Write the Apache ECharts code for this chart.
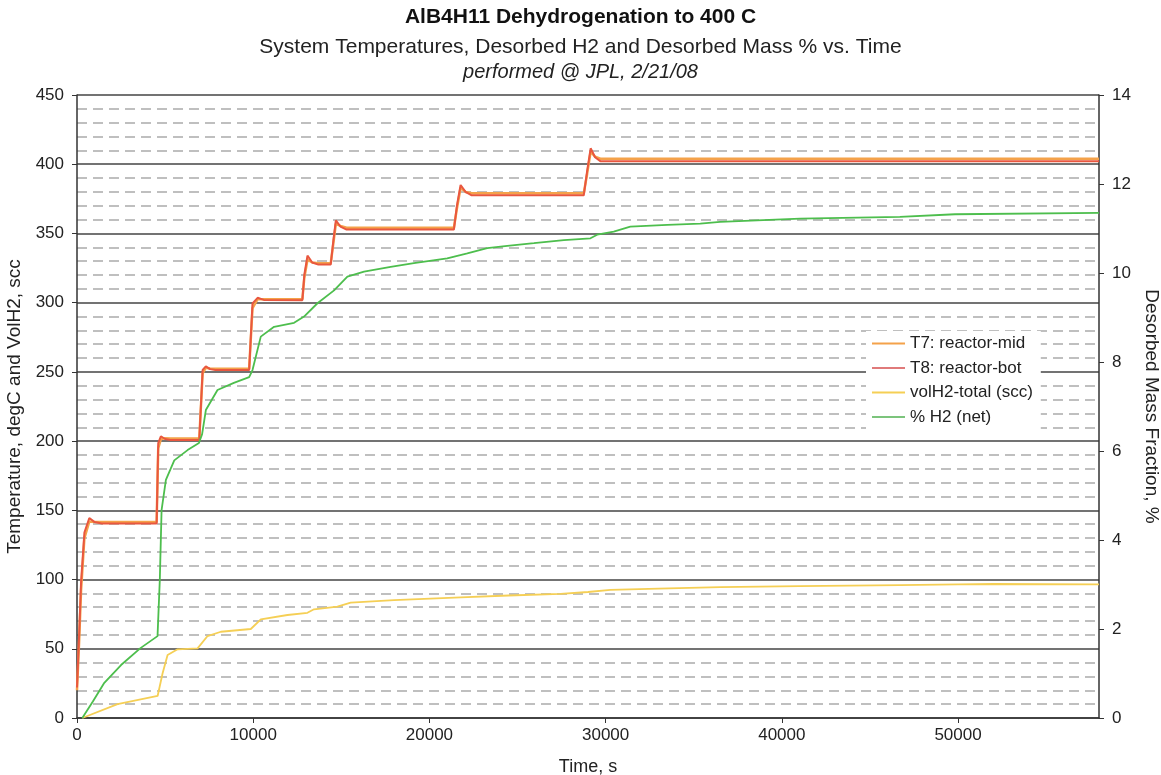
<!DOCTYPE html>
<html>
<head>
<meta charset="utf-8">
<script src="https://cdn.jsdelivr.net/npm/echarts@6/dist/echarts.min.js"></script>
<style>html,body{margin:0;padding:0;background:#fff;}#c{width:1161px;height:775px;}</style>
</head>
<body>
<div id="c"></div>
<script>
// ---- data ----
const t8Time = [0, 120, 230, 420, 700, 1000, 1400, 4520, 4610, 4760, 5000, 5300, 6940, 7130, 7310, 7550, 7850, 9770, 9960, 10250, 10600, 12790, 12900, 13080, 13350, 13700, 14400, 14550, 14690, 14950, 15300, 21390, 21560, 21770, 22050, 22400, 28760, 28950, 29150, 29400, 29700, 58000];
const t8Temp = [22, 60, 98, 134, 144.5, 141.5, 140.5, 140.5, 198.6, 203.5, 201.5, 200.8, 200.8, 251.4, 254, 252, 251.3, 251.3, 299.5, 303.5, 302, 301.8, 320, 334, 329, 327.5, 327.5, 345, 359.5, 355, 352.8, 352.8, 370, 385, 380, 377.5, 377.5, 395, 411.5, 405, 402.2, 402.2];
const t7Time = t8Time;
const t7Temp = [20, 55, 92, 130, 142, 141.5, 141.5, 141.5, 195, 201.5, 202, 201.8, 201.8, 249, 253, 252.5, 252.3, 252.3, 296, 302.5, 302.5, 302.5, 318, 331, 329, 328.5, 328.5, 343, 357, 355.5, 354.2, 354.2, 368, 383, 380, 379, 379, 393, 409, 405.5, 404, 404];
const volTime = [300, 2300, 4575, 4858, 5141, 5708, 6842, 7409, 8163, 9864, 10430, 11944, 13078, 13452, 14779, 15533, 17990, 21770, 24500, 27440, 29000, 30270, 33000, 36500, 41000, 46700, 50000, 52000, 58000];
const volH2 = [0, 10, 15.9, 32.3, 45.5, 49.6, 50.3, 59.2, 62.3, 64.3, 71.3, 74.4, 76, 78.5, 80.4, 83.3, 85.2, 87.2, 88.5, 89.6, 91, 92.5, 93.5, 94.6, 95.3, 96, 96.5, 96.8, 96.5];
const h2Time = [300, 900, 1550, 2500, 3600, 4570, 4700, 4800, 5045, 5520, 6275, 6920, 7100, 7313, 7974, 8900, 9770, 9960, 10430, 11185, 12320, 12886, 13645, 14590, 15345, 16290, 17800, 19120, 21010, 22150, 23280, 24420, 25930, 27630, 29140, 29520, 30460, 31400, 33500, 35370, 36500, 41040, 46700, 49830, 58000];
const h2Pct = [0, 0.37, 0.79, 1.19, 1.57, 1.84, 3.11, 4.67, 5.35, 5.79, 6.02, 6.18, 6.38, 6.92, 7.37, 7.53, 7.66, 7.82, 8.57, 8.79, 8.88, 9.02, 9.32, 9.61, 9.92, 10.03, 10.14, 10.22, 10.33, 10.44, 10.56, 10.61, 10.67, 10.74, 10.78, 10.86, 10.93, 11.04, 11.08, 11.11, 11.15, 11.22, 11.26, 11.32, 11.35];
const seriesNames = ['T7: reactor-mid', 'T8: reactor-bot', 'volH2-total (scc)', '% H2 (net)'];
const titleText = 'AlB4H11 Dehydrogenation to 400 C';
const subText = 'System Temperatures, Desorbed H2 and Desorbed Mass % vs. Time';
const noteText = 'performed @ JPL, 2/21/08';

const pairs = (xs, ys) => xs.map((x, i) => [x, ys[i]]);
const FONT = 'Liberation Sans, Arial, sans-serif';
const plain = v => String(v);

const chart = echarts.init(document.getElementById('c'), null, {renderer: 'canvas'});
chart.setOption({
  animation: false,
  backgroundColor: '#fff',
  title: [
    {text: titleText, left: 'center', top: 7, padding: 0, textStyle: {fontFamily: FONT, fontSize: 21, fontWeight: 'bold', color: '#111'}},
    {text: subText, left: 'center', top: 37, padding: 0, textStyle: {fontFamily: FONT, fontSize: 21, fontWeight: 'normal', color: '#222'}},
    {text: noteText, left: 'center', top: 62, padding: 0, textStyle: {fontFamily: FONT, fontSize: 20, fontWeight: 'normal', fontStyle: 'italic', color: '#222'}}
  ],
  grid: {left: 77, right: 62, top: 95, bottom: 57, containLabel: false, outerBoundsMode: 'none'},
  legend: {
    orient: 'vertical', left: 866, top: 331,
    data: seriesNames,
    icon: 'rect', itemWidth: 33, itemHeight: 2, itemGap: 7.5,
    backgroundColor: '#fff', padding: [4, 8, 4, 6],
    textStyle: {fontFamily: FONT, fontSize: 17, color: '#222'}
  },
  xAxis: {
    type: 'value', min: 0, max: 58000, interval: 10000,
    name: 'Time, s', nameLocation: 'middle', nameGap: 40,
    nameTextStyle: {fontFamily: FONT, fontSize: 18, color: '#222'},
    axisLine: {show: true, lineStyle: {color: '#333', width: 1.5}},
    axisTick: {show: true, length: 5, lineStyle: {color: '#333'}},
    axisLabel: {fontFamily: FONT, fontSize: 17, color: '#222', margin: 9, showMaxLabel: false, formatter: plain},
    splitLine: {show: false}
  },
  yAxis: [
    {
      type: 'value', min: 0, max: 450, interval: 50,
      name: 'Temperature, degC and VolH2, scc', nameLocation: 'middle', nameGap: 43, nameRotate: 90,
      nameTextStyle: {fontFamily: FONT, fontSize: 19, color: '#222'},
      axisLine: {show: true, lineStyle: {color: '#333', width: 1.5}},
      axisTick: {show: true, length: 5, lineStyle: {color: '#333'}},
      axisLabel: {fontFamily: FONT, fontSize: 17, color: '#222', margin: 13, formatter: plain},
      splitLine: {show: true, lineStyle: {color: '#444', width: 1.5}},
      minorTick: {show: false, splitNumber: 5},
      minorSplitLine: {show: true, lineStyle: {color: '#aaa', width: 1.5, type: [10, 6]}}
    },
    {
      type: 'value', min: 0, max: 14, interval: 2, position: 'right',
      name: 'Desorbed Mass Fraction, %', nameLocation: 'middle', nameGap: 37, nameRotate: -90,
      nameTextStyle: {fontFamily: FONT, fontSize: 19, color: '#222'},
      axisLine: {show: true, lineStyle: {color: '#333', width: 1.5}},
      axisTick: {show: true, length: 5, lineStyle: {color: '#333'}},
      axisLabel: {fontFamily: FONT, fontSize: 17, color: '#222', margin: 13, formatter: plain},
      splitLine: {show: false}
    }
  ],
  series: [
    {name: seriesNames[0], type: 'line', yAxisIndex: 0, showSymbol: false, data: pairs(t7Time, t7Temp),
     lineStyle: {color: '#F4A24A', width: 2.5}, itemStyle: {color: '#F4A24A'}, z: 3},
    {name: seriesNames[1], type: 'line', yAxisIndex: 0, showSymbol: false, data: pairs(t8Time, t8Temp),
     lineStyle: {color: '#E9573F', width: 2}, itemStyle: {color: '#E07A7A'}, z: 4},
    {name: seriesNames[2], type: 'line', yAxisIndex: 0, showSymbol: false, data: pairs(volTime, volH2),
     lineStyle: {color: '#F5CF55', width: 1.8}, itemStyle: {color: '#F5CF55'}, z: 5},
    {name: seriesNames[3], type: 'line', yAxisIndex: 1, showSymbol: false, data: pairs(h2Time, h2Pct),
     lineStyle: {color: '#4DBE4D', width: 1.8}, itemStyle: {color: '#7CC47C'}, z: 6}
  ]
});
</script>
</body>
</html>
